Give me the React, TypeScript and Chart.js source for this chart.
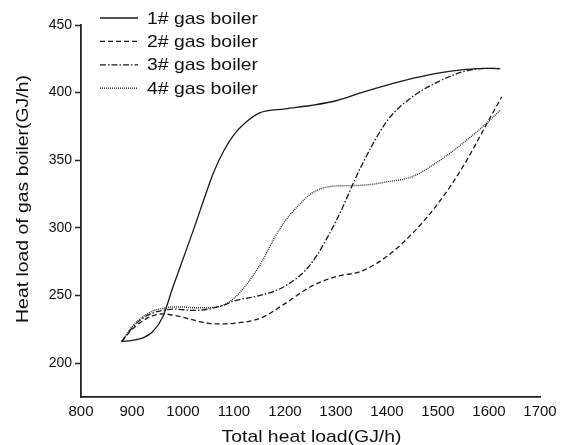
import React, { useEffect, useRef } from "react";
import { Chart, registerables } from "chart.js";

Chart.register(...registerables);

const seriesNames = ["1# gas boiler", "2# gas boiler", "3# gas boiler", "4# gas boiler"];
const xTitle = "Total heat load(GJ/h)";
const yTitle = "Heat load of gas boiler(GJ/h)";

const x1 = [880, 900, 920, 940, 960, 980, 1000, 1020, 1040, 1060, 1080, 1100, 1120, 1150, 1200, 1250, 1300, 1350, 1400, 1450, 1500, 1550, 1600, 1622];
const y1 = [216, 216.8, 218.5, 223, 234, 256, 277, 298, 320, 341, 357, 369, 377, 385, 388, 390.5, 394, 400, 405.5, 410.5, 414.5, 417, 418, 417.5];

const x2 = [880, 900, 920, 940, 960, 980, 1000, 1020, 1050, 1080, 1100, 1150, 1200, 1250, 1300, 1350, 1400, 1450, 1500, 1550, 1600, 1625];
const y2 = [216, 225, 231, 235, 236.5, 235.5, 234, 232, 229.5, 229, 229.5, 233, 244, 256.5, 264, 268, 279, 296, 318, 346, 380, 397];

const x3 = [880, 900, 920, 940, 960, 980, 1000, 1020, 1050, 1080, 1100, 1150, 1200, 1250, 1300, 1350, 1400, 1450, 1500, 1550, 1600, 1622];
const y3 = [216, 226, 233, 237, 239, 240, 239.5, 239, 240, 243, 246, 250, 257, 273, 305, 346, 379, 397, 408, 415.5, 418, 418];

const x4 = [880, 900, 920, 940, 960, 980, 1000, 1020, 1050, 1080, 1100, 1120, 1150, 1180, 1200, 1230, 1250, 1275, 1300, 1350, 1400, 1450, 1500, 1550, 1600, 1622];
const y4 = [216, 227, 234, 238.5, 240.5, 241.5, 241.5, 241, 241, 243, 248, 256, 272, 293, 305, 318, 325, 329.5, 331, 331.5, 334, 338, 349, 363, 379, 387];

const xTicks = [800, 900, 1000, 1100, 1200, 1300, 1400, 1500, 1600, 1700];
const yTicks = [200, 250, 300, 350, 400, 450];

const dashes: number[][] = [[], [5, 3], [6, 2, 1.5, 2], [1, 1]];

const pts = (xs: number[], ys: number[]) => xs.map((x, i) => ({ x, y: ys[i] }));

const FONT = "'Liberation Sans', Arial, sans-serif";
const STRETCH = 1.14;

function drawStretched(ctx: CanvasRenderingContext2D, text: string, x: number, y: number, rot: number, align: CanvasTextAlign) {
  ctx.save();
  ctx.translate(x, y);
  ctx.rotate(rot);
  ctx.scale(STRETCH, 1);
  ctx.textAlign = align;
  ctx.textBaseline = "middle";
  ctx.fillText(text, 0, 0);
  ctx.restore();
}

const textPlugin = {
  id: "insideLegendAndTitles",
  afterDraw(chart: any) {
    const ctx = chart.ctx as CanvasRenderingContext2D;
    ctx.save();
    const lx0 = 100;
    const lx1 = 138;
    const tx = 147;
    const y0 = 18;
    const step = 23.4;
    ctx.fillStyle = "#111";
    ctx.font = "17px " + FONT;
    chart.data.datasets.forEach((ds: any, i: number) => {
      const y = y0 + i * step;
      ctx.beginPath();
      ctx.setLineDash(ds.borderDash || []);
      ctx.strokeStyle = ds.borderColor;
      ctx.lineWidth = ds.borderWidth;
      ctx.moveTo(lx0, y);
      ctx.lineTo(lx1, y);
      ctx.stroke();
      ctx.setLineDash([]);
      drawStretched(ctx, ds.label, tx, y + 1, 0, "left");
    });
    const area = chart.chartArea;
    drawStretched(ctx, xTitle, (area.left + area.right) / 2 + 1, 437, 0, "center");
    drawStretched(ctx, yTitle, 23, 199, -Math.PI / 2, "center");
    ctx.restore();
  },
};

export default function App() {
  const ref = useRef<HTMLCanvasElement | null>(null);
  useEffect(() => {
    document.body.style.margin = "0";
    const canvas = ref.current!;
    const data = [pts(x1, y1), pts(x2, y2), pts(x3, y3), pts(x4, y4)];
    const chart = new Chart(canvas, {
      type: "line",
      data: {
        datasets: data.map((d, i) => ({
          label: seriesNames[i],
          data: d,
          borderColor: i === 3 ? "#333" : "#1a1a1a",
          borderWidth: i === 3 ? 1.4 : 1.3,
          borderDash: dashes[i],
          pointRadius: 0,
          fill: false,
          cubicInterpolationMode: "monotone" as const,
        })),
      },
      options: {
        responsive: false,
        animation: false,
        layout: { padding: { top: 25, right: 28, left: 0, bottom: 0 } },
        plugins: { legend: { display: false }, tooltip: { enabled: false } },
        scales: {
          x: {
            type: "linear",
            min: 800,
            max: 1700,
            afterBuildTicks: (s: any) => {
              s.ticks = xTicks.map((v) => ({ value: v }));
            },
            afterFit: (s: any) => {
              s.height = 48;
            },
            grid: { display: true, drawOnChartArea: false, drawTicks: false },
            border: { display: true, color: "#222", width: 1.8 },
            ticks: {
              color: "#111",
              padding: 6,
              maxRotation: 0,
              callback: (v: any) => String(v),
              font: { family: FONT, size: 15 },
            },
          },
          y: {
            type: "linear",
            min: 175,
            max: 450,
            afterBuildTicks: (s: any) => {
              s.ticks = yTicks.map((v) => ({ value: v }));
            },
            afterFit: (s: any) => {
              s.width = 81;
            },
            grid: { display: true, drawOnChartArea: false, drawTicks: true, tickLength: 6, color: "#222", tickWidth: 1.5 },
            border: { display: true, color: "#222", width: 1.8 },
            ticks: {
              color: "#111",
              padding: 3,
              callback: (v: any) => String(v),
              font: { family: FONT, size: 14 },
            },
          },
        },
      },
      plugins: [textPlugin],
    });
    return () => chart.destroy();
  }, []);
  return (
    <div style={{ width: 568, height: 445 }}>
      <canvas ref={ref} width={568} height={445} style={{ display: "block" }} />
    </div>
  );
}
